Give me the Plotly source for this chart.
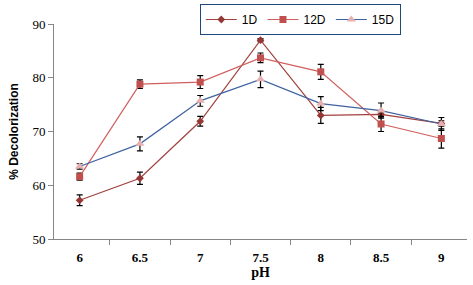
import plotly.graph_objects as go

ph = ["6", "6.5", "7", "7.5", "8", "8.5", "9"]
d1 = [57.2, 61.3, 71.9, 87.0, 73.0, 73.2, 71.5]
d1_err = [1.0, 1.15, 0.9, 0.3, 1.5, 0.5, 0.5]
d12 = [61.6, 78.8, 79.2, 83.7, 81.1, 71.4, 68.7]
d12_err = [0.65, 0.8, 1.2, 0.9, 1.4, 1.4, 1.8]
d15 = [63.5, 67.7, 75.7, 79.7, 75.2, 73.9, 71.4]
d15_err = [0.5, 1.3, 1.0, 1.55, 1.3, 1.4, 1.2]
yticks = [50, 60, 70, 80, 90]

def eb(v):
    return dict(type="data", array=v, visible=True, color="black", thickness=1.2, width=3)

fig = go.Figure()
fig.add_trace(go.Scatter(x=ph, y=d1, name="1D", mode="lines+markers",
                         line=dict(color="#A0413E", width=1.2),
                         marker=dict(symbol="diamond", size=6, color="#953735"),
                         error_y=eb(d1_err)))
fig.add_trace(go.Scatter(x=ph, y=d12, name="12D", mode="lines+markers",
                         line=dict(color="#D0605E", width=1.2),
                         marker=dict(symbol="square", size=7, color="#C0504D"),
                         error_y=eb(d12_err)))
fig.add_trace(go.Scatter(x=ph, y=d15, name="15D", mode="lines+markers",
                         line=dict(color="#3F62A0", width=1.2),
                         marker=dict(symbol="triangle-up", size=8, color="#E6B0B0"),
                         error_y=eb(d15_err)))

tickfont = dict(family="Liberation Serif", size=13, color="black")
fig.update_layout(
    width=473, height=285,
    margin=dict(l=54, r=6, t=24, b=46, autoexpand=False),
    paper_bgcolor="white", plot_bgcolor="white",
    showlegend=True,
    legend=dict(orientation="h", x=0.353, y=1.093, xanchor="left", yanchor="top",
                bordercolor="#1F497D", borderwidth=1, bgcolor="white",
                font=dict(family="Liberation Sans", size=12, color="black"),
                itemwidth=31, tracegroupgap=0),
    xaxis=dict(type="category", tickson="boundaries", showline=True, linecolor="#868686",
               linewidth=1, ticks="outside", ticklen=5, tickcolor="#868686",
               tickfont=tickfont, showgrid=False, zeroline=False,
               ticklabelstandoff=6,
               tickprefix="<b>", ticksuffix="</b>",
               title=dict(text="<b>pH</b>", font=dict(family="Liberation Serif", size=14, color="black"), standoff=2)),
    yaxis=dict(range=[50, 90], tickvals=yticks, showline=True, linecolor="#868686",
               linewidth=1, ticks="outside", ticklen=5, tickcolor="#868686",
               tickfont=tickfont, showgrid=False, zeroline=False,
               tickprefix="<b>", ticksuffix="</b>",
               title=dict(text="<b>% Decolorization</b>", font=dict(family="Liberation Sans", size=12, color="black"), standoff=11)),
)
fig.write_html("out.html", config={"displayModeBar": False},
               post_script="document.body.style.margin='0';document.body.style.padding='0';")
